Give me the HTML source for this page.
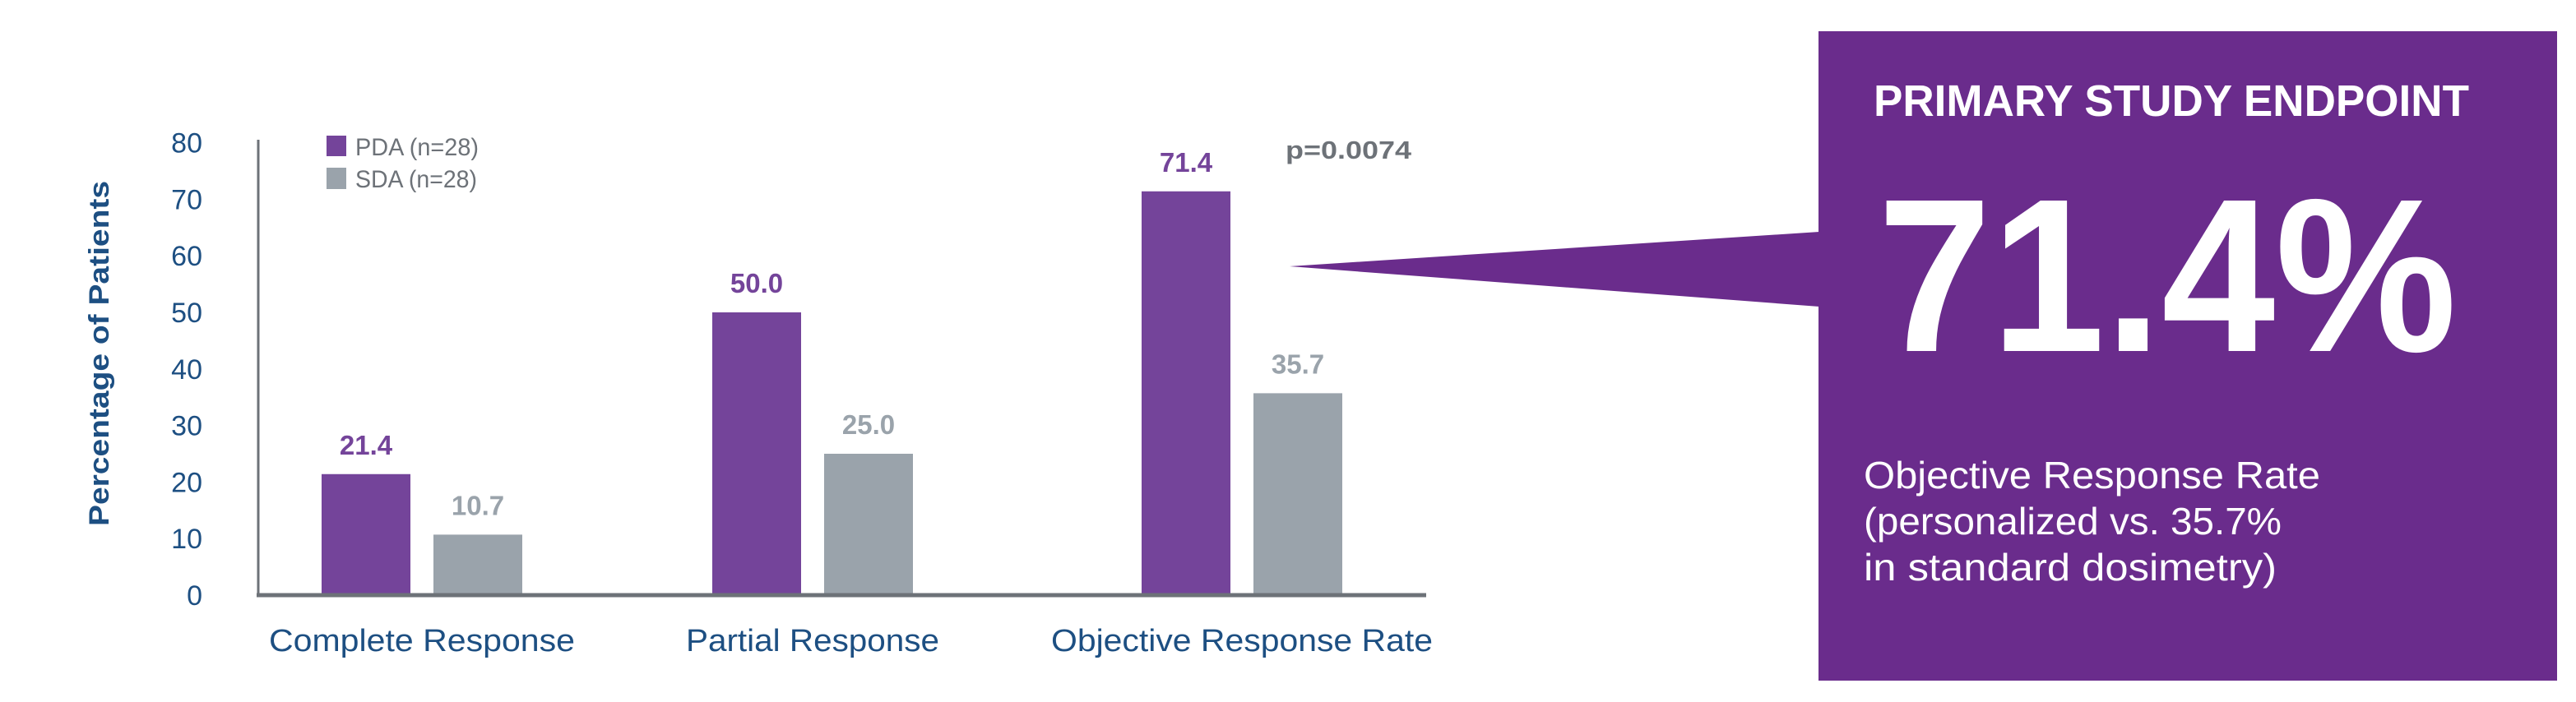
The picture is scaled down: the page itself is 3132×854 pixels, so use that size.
<!DOCTYPE html>
<html><head><meta charset="utf-8"><style>
html,body{margin:0;padding:0;background:#fff;}
svg{display:block;font-family:"Liberation Sans",sans-serif;}
</style></head><body>
<svg id="chart" width="3132" height="854" viewBox="0 0 3132 854" xmlns="http://www.w3.org/2000/svg">
<text transform="translate(132,430) rotate(-90)" text-anchor="middle" font-size="34" font-weight="bold" fill="#1d4f82" textLength="420" lengthAdjust="spacingAndGlyphs">Percentage of Patients</text>
<g id="yticks"></g>
<g id="bars"></g>
<g id="xlabels"></g>
<line x1="314" y1="170" x2="314" y2="726" stroke="#6d7278" stroke-width="3"/>
<line x1="312" y1="724" x2="1734" y2="724" stroke="#6d7278" stroke-width="5"/>
<g>
<rect x="397" y="165" width="24" height="25" fill="#74449a"/>
<text x="432" y="189" font-size="30" fill="#6d7278" textLength="150" lengthAdjust="spacingAndGlyphs">PDA (n=28)</text>
<rect x="397" y="204" width="24" height="26" fill="#9aa3ab"/>
<text x="432" y="228" font-size="30" fill="#6d7278" textLength="148" lengthAdjust="spacingAndGlyphs">SDA (n=28)</text>
</g>
<text x="1563" y="193" font-size="31" font-weight="bold" fill="#6d7278" textLength="153" lengthAdjust="spacingAndGlyphs">p=0.0074</text>
<polygon points="1568,324 2212,282 2212,373" fill="#6a2c8c"/>
<rect x="2211" y="38" width="898" height="790" fill="#6a2c8c"/>
<text x="2278" y="141" font-size="54" font-weight="bold" fill="#fff" textLength="724" lengthAdjust="spacingAndGlyphs">PRIMARY STUDY ENDPOINT</text>
<text x="2283" y="427" font-size="266" font-weight="bold" fill="#fff" textLength="704" lengthAdjust="spacingAndGlyphs">71.4%</text>
<text x="2266" y="594" font-size="46" fill="#fff" textLength="555" lengthAdjust="spacingAndGlyphs">Objective Response Rate</text>
<text x="2266" y="650" font-size="46" fill="#fff" textLength="508" lengthAdjust="spacingAndGlyphs">(personalized vs. 35.7%</text>
<text x="2266" y="706" font-size="46" fill="#fff" textLength="502" lengthAdjust="spacingAndGlyphs">in standard dosimetry)</text>
</svg>
<script>
const categories = ["Complete Response", "Partial Response", "Objective Response Rate"];
const pdaValues = [21.4, 50.0, 71.4];
const sdaValues = [10.7, 25.0, 35.7];
const yTicks = [0, 10, 20, 30, 40, 50, 60, 70, 80];

const NS = "http://www.w3.org/2000/svg";
const y0 = 724, pxPerUnit = 6.88;
function yScale(v){ return y0 - v * pxPerUnit; }
const groupStarts = [391, 866, 1388];
const barW = 108, gap = 28;
function mk(tag, attrs, parent){
  const e = document.createElementNS(NS, tag);
  for (const k in attrs) e.setAttribute(k, attrs[k]);
  parent.appendChild(e); return e;
}
const yt = document.getElementById('yticks');
yTicks.forEach(t => {
  const e = mk('text', {x: 246, y: yScale(t) + 12, 'text-anchor': 'end', 'font-size': 34, fill: '#1d4f82'}, yt);
  
  
  e.textContent = t;
});
const bg = document.getElementById('bars');
const xl = document.getElementById('xlabels');
const labelW = [372, 308, 464];
categories.forEach((c, i) => {
  const xs = groupStarts[i];
  const series = [[pdaValues[i], '#74449a', 'pda'], [sdaValues[i], '#9aa3ab', 'sda']];
  series.forEach((s, j) => {
    const x = xs + j * (barW + gap);
    const r = mk('rect', {x: x, y: yScale(s[0]), width: barW, height: y0 - yScale(s[0]), fill: s[1]}, bg);
    
    
    const t = mk('text', {x: x + barW / 2, y: yScale(s[0]) - 24, 'text-anchor': 'middle', 'font-size': 33, 'font-weight': 'bold', fill: s[1]}, bg);
    
    
    t.textContent = s[0].toFixed(1);
  });
  const cx = xs + barW + gap / 2;
  const l = mk('text', {x: cx, y: 792, 'text-anchor': 'middle', 'font-size': 38, fill: '#1d4f82', textLength: labelW[i], lengthAdjust: 'spacingAndGlyphs'}, xl);
  
  
  l.textContent = c;
});
</script>
</body></html>
